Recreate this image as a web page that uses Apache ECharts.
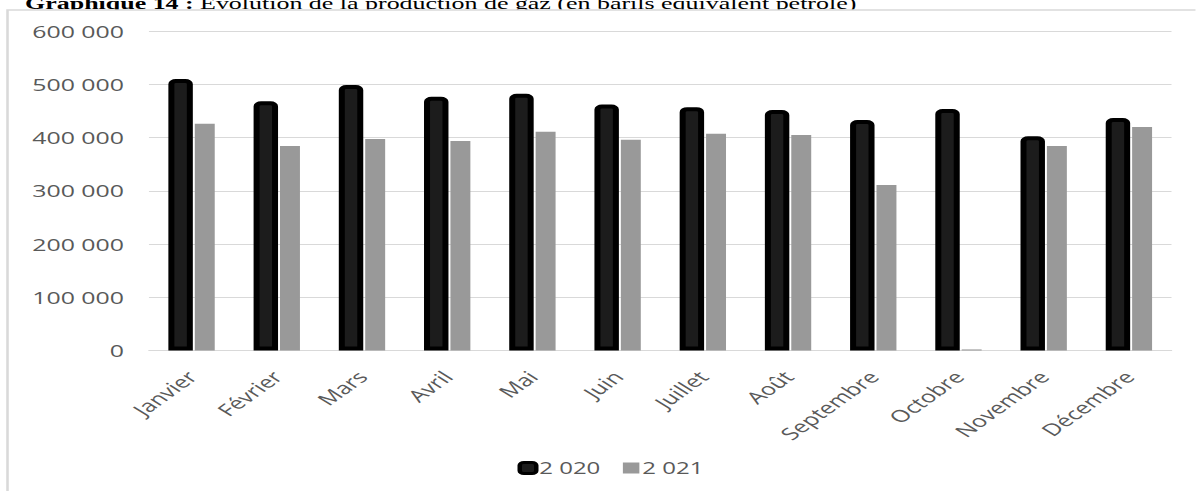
<!DOCTYPE html>
<html>
<head>
<meta charset="utf-8">
<script src="https://cdn.jsdelivr.net/npm/echarts@6/dist/echarts.min.js"></script>
<style>
html,body{margin:0;padding:0;background:#fff;overflow:hidden;width:1196px;height:491px;}
#wrap{width:797.333px;height:491px;transform:scaleX(1.5);transform-origin:0 0;}
</style>
</head>
<body>
<div id="wrap"></div>
<script>
// ---- data ----
const categories = ['Janvier','Février','Mars','Avril','Mai','Juin','Juillet','Août','Septembre','Octobre','Novembre','Décembre'];
const seriesNames = ['2 020','2 021'];
const values2020 = [510000, 468000, 498500, 476500, 482000, 462000, 457000, 451500, 433000, 453500, 402500, 436500];
const values2021 = [426000, 384000, 397000, 393500, 411000, 396000, 407000, 404500, 311000, 2000, 384000, 419500];
const yMin = 0, yMax = 600000, yStep = 100000;
const titleBold = 'Graphique 14 :';
const titleRest = ' Évolution de la production de gaz (en barils équivalent pétrole)';

function fmt(v){ return String(v).replace(/\B(?=(\d{3})+(?!\d))/g, ' '); }

const chart = echarts.init(document.getElementById('wrap'), null, {renderer:'svg'});
const labelFont = {color:'#595959', fontSize:16, fontFamily:'Open Sans'};

chart.setOption({
  animation:false,
  backgroundColor:'#fff',
  graphic:[
    {type:'text', z:-2, x:16.7, y:12,
      style:{text:'{b|'+titleBold+'}'+titleRest, fill:'#000', fontSize:17.3, fontFamily:'Liberation Serif', verticalAlign:'bottom', align:'left',
        rich:{b:{fontWeight:'bold', fontSize:17.3, fontFamily:'Liberation Serif'}}}},
    {type:'rect', z:-1, shape:{x:5, y:10, width:1000, height:600},
      style:{fill:'#fff', stroke:'#d9d9d9', lineWidth:1.7}}
  ],
  grid:{left:99.3, right:16, top:31, bottom:140.5, containLabel:false},
  xAxis:{type:'category', data:categories,
    axisTick:{show:false},
    axisLine:{lineStyle:{color:'#d9d9d9', width:1}},
    axisLabel:Object.assign({}, labelFont, {rotate:47, interval:0, margin:23, fontSize:16.8})},
  yAxis:{type:'value', min:yMin, max:yMax, interval:yStep,
    axisLine:{show:false}, axisTick:{show:false},
    splitLine:{lineStyle:{color:'#d9d9d9', width:1}},
    axisLabel:Object.assign({}, labelFont, {margin:16.6, fontSize:16.6, formatter:fmt})},
  legend:{
    data:[
      {name:seriesNames[0], icon:'roundRect', itemStyle:{color:'#1c1c1c', borderColor:'#000', borderWidth:3}},
      {name:seriesNames[1], icon:'rect', itemStyle:{color:'#999999'}}
    ],
    left:340, top:455, itemWidth:11, itemHeight:11, itemGap:15,
    textStyle:Object.assign({padding:[0,0,0,-3]}, labelFont)
  },
  series:[
    {name:seriesNames[0], type:'bar', data:values2020, barWidth:16.3, barGap:'8%',
      itemStyle:{color:'#1c1c1c', borderColor:'#000', borderWidth:4, borderRadius:[3,3,0,0]}},
    {name:seriesNames[1], type:'bar', data:values2021, barWidth:13.3, barGap:'8%',
      itemStyle:{color:'#999999'}}
  ]
});
</script>
</body>
</html>
